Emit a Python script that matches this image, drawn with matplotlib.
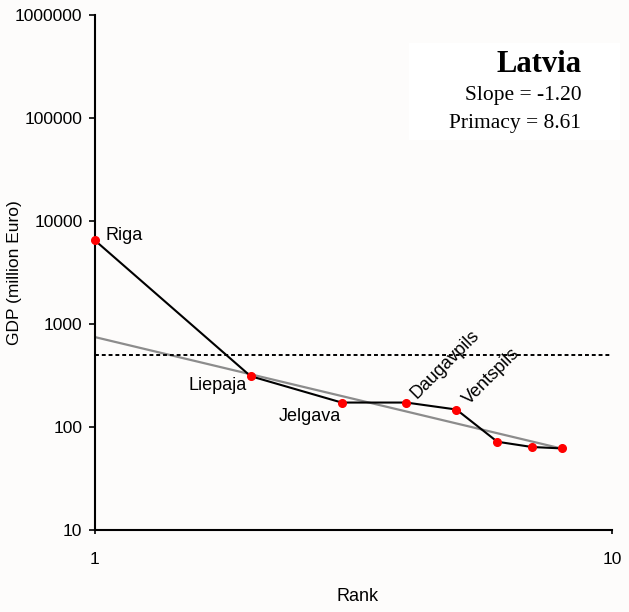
import numpy as np
import matplotlib
matplotlib.use("Agg")
import matplotlib.pyplot as plt
from matplotlib.patches import Rectangle

# data (GDP, million Euro)
ranks = [1, 2, 3, 4, 5, 6, 7, 8]
gdp = [6500, 312, 173, 173, 148, 72, 64, 62]
cities = ["Riga", "Liepaja", "Jelgava", "Daugavpils", "Ventspils", "", "", ""]
threshold = 500
fit_intercept = 748
fit_slope = -1.20
primacy = 8.61
country = "Latvia"

bg = "#fdfcfb"
fig = plt.figure(figsize=(6.29, 6.12), dpi=100, facecolor=bg)
ax = fig.add_axes([0.151, 0.134, 0.822, 0.841], facecolor=bg)

ax.set_xscale("log")
ax.set_yscale("log")
ax.set_xlim(1, 10)
ax.set_ylim(10, 1000000)

# fitted rank-size line
xfit = np.array([ranks[0], ranks[-1]], dtype=float)
ax.plot(xfit, fit_intercept * xfit ** fit_slope, color="#8c8c8c", lw=1.6, zorder=2)
# threshold
ax.axhline(threshold, color="black", ls=(0, (2, 1.5)), lw=1.4, zorder=2)
# data
ax.plot(ranks, gdp, color="black", lw=1.5, zorder=3)
ax.plot(ranks, gdp, "o", color="red", ms=5.5, mec="red", zorder=4, clip_on=False)

lab = dict(fontsize=13, family="Liberation Sans", textcoords="offset pixels")
ax.annotate(cities[0], (ranks[0], gdp[0]), xytext=(11, 5), ha="left", va="center", **lab)
ax.annotate(cities[1], (ranks[1], gdp[1]), xytext=(-4, -9), ha="right", va="center", **lab)
ax.annotate(cities[2], (ranks[2], gdp[2]), xytext=(-1, -14), ha="right", va="center", **lab)
ax.annotate(cities[3], (ranks[3], gdp[3]), xytext=(10, 3), ha="left", va="baseline",
            rotation=45, rotation_mode="anchor", **lab)
ax.annotate(cities[4], (ranks[4], gdp[4]), xytext=(13, 4), ha="left", va="baseline",
            rotation=45, rotation_mode="anchor", **lab)

# axes styling
for s in ["top", "right"]:
    ax.spines[s].set_visible(False)
for s in ["left", "bottom"]:
    ax.spines[s].set_linewidth(1.5)
ax.set_yticks([10, 100, 1000, 10000, 100000, 1000000])
ax.set_yticklabels(["10", "100", "1000", "10000", "100000", "1000000"])
ax.set_xticks([1, 10])
ax.set_xticklabels(["1", "10"])
ax.minorticks_off()
ax.tick_params(axis="y", length=4, width=1.2, pad=5, labelsize=12.5)
ax.tick_params(axis="x", length=3, width=1.2, pad=13, labelsize=12.5)
for t in ax.get_xticklabels() + ax.get_yticklabels():
    t.set_family("Liberation Sans")

ax.set_xlabel("Rank", fontsize=13, family="Liberation Sans")
ax.set_ylabel("GDP (million Euro)", fontsize=12.5, family="Liberation Sans")
ax.xaxis.set_label_coords(0.507, -0.113)
ax.yaxis.set_label_coords(-0.141, 0.5)

# info box
fig.patches.append(Rectangle((0.650, 0.771), 0.335, 0.158, transform=fig.transFigure,
                             facecolor="white", edgecolor="none", zorder=5))
fig.text(0.924, 0.882, country, ha="right", va="baseline", fontsize=22,
         fontweight="bold", family="Liberation Serif", zorder=6)
fig.text(0.924, 0.837, f"Slope = {fit_slope:.2f}", ha="right", va="baseline",
         fontsize=15.5, family="Liberation Serif", zorder=6)
fig.text(0.924, 0.791, f"Primacy = {primacy:.2f}", ha="right", va="baseline",
         fontsize=15.5, family="Liberation Serif", zorder=6)

fig.savefig("out.png", dpi=100, facecolor=bg)
